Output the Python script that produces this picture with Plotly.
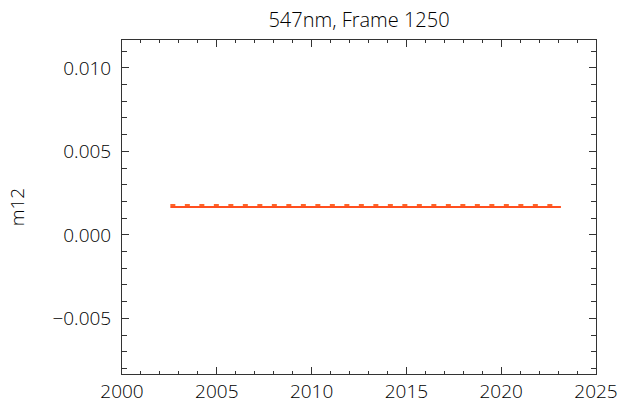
import plotly.graph_objects as go

# Observation epochs (decimal year) and m12 values
years = [2002.55, 2023.15]
m12_measured = [0.00167, 0.00167]
m12_model = [0.00179, 0.00179]

x_range = [2000, 2025]
y_range = [-0.00833, 0.01167]
x_ticks = [2000, 2005, 2010, 2015, 2020, 2025]
y_ticks = [-0.005, 0.000, 0.005, 0.010]

family = "Open Sans, DejaVu Sans, sans-serif"
font = dict(family=family, size=19, color="#000000", weight=300)

fig = go.Figure()
fig.add_trace(go.Scatter(
    x=years, y=m12_measured, mode="lines",
    line=dict(color="#ff4f1f", width=2),
    showlegend=False,
))
fig.add_trace(go.Scatter(
    x=years, y=m12_model, mode="lines",
    line=dict(color="#ff6428", width=2, dash="5px,9.5px"),
    showlegend=False,
))

axis_common = dict(
    showline=True, linecolor="#333333", linewidth=1, mirror="allticks",
    ticks="inside", tickcolor="#333333", tickwidth=1, ticklen=7,
    showgrid=False, zeroline=False, tickfont=font, automargin=False,
)

fig.update_xaxes(
    range=x_range, tickvals=x_ticks, tickformat="d", ticklabelstandoff=0,
    minor=dict(ticks="inside", dtick=1, ticklen=3, tickcolor="#333333", showgrid=False),
    **axis_common,
)
fig.update_yaxes(
    range=y_range, tickvals=y_ticks, tickformat=".3f", ticklabelstandoff=6,
    minor=dict(ticks="inside", dtick=0.001, tick0=0, ticklen=5, tickcolor="#333333", showgrid=False),
    title=dict(text="m12", font=font, standoff=22),
    **axis_common,
)

fig.update_layout(
    width=620, height=408,
    margin=dict(l=122, r=24, t=40, b=34),
    paper_bgcolor="white", plot_bgcolor="white",
    title=dict(text="547nm, Frame 1250", x=0.5, xref="paper", xanchor="center",
               y=0.95, yanchor="middle",
               font=dict(family=family, size=20, color="#000000", weight=300)),
    font=font,
)

fig.write_html("out.html")
